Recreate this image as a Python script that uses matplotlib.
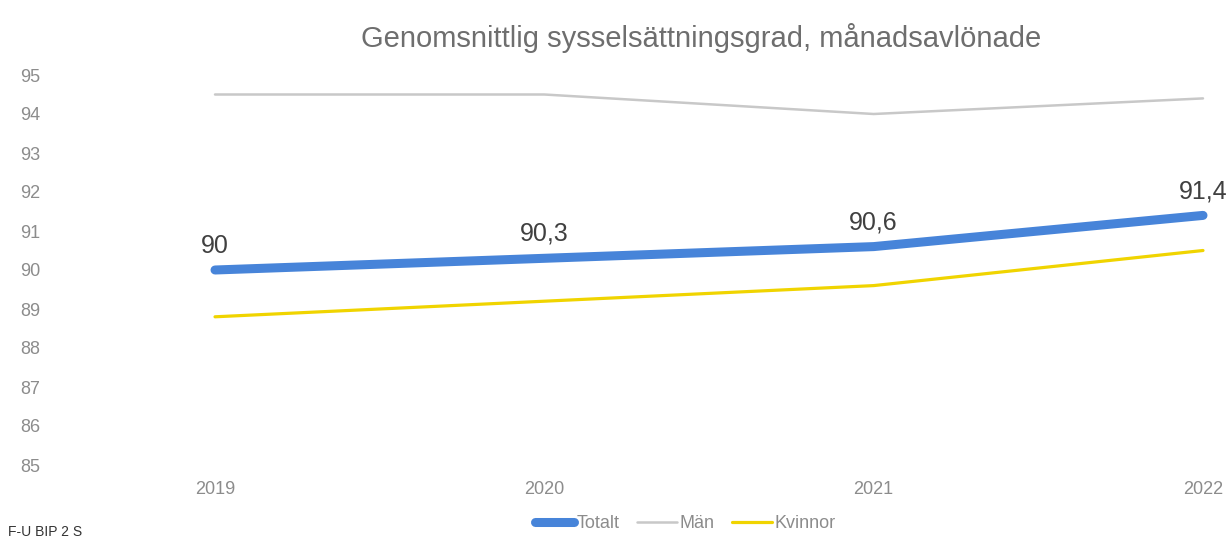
import numpy as np
import matplotlib.pyplot as plt

plt.rcParams['font.family'] = ['Liberation Sans', 'DejaVu Sans']

# data
years = ['2019', '2020', '2021', '2022']
totalt = [90.0, 90.3, 90.6, 91.4]
man = [94.5, 94.5, 94.0, 94.4]
kvinnor = [88.8, 89.2, 89.6, 90.5]
totalt_labels = ['90', '90,3', '90,6', '91,4']
yticks = [85, 86, 87, 88, 89, 90, 91, 92, 93, 94, 95]

W, H = 1232, 541
fig = plt.figure(figsize=(W / 100, H / 100), dpi=100)
ax = fig.add_axes([55 / W, (H - 465) / H, (W - 55) / W, 390 / H])

x = np.arange(len(years))
ax.plot(x, totalt, color='#4784d9', lw=6.5, solid_capstyle='round', label='Totalt', zorder=3)
ax.plot(x, man, color='#c8c8c8', lw=1.8, solid_capstyle='round', label='Män', zorder=2)
ax.plot(x, kvinnor, color='#f0d400', lw=2.3, solid_capstyle='round', label='Kvinnor', zorder=2)

# datalabels för totalt
for xi, yi, lab in zip(x, totalt, totalt_labels):
    ax.annotate(lab, (xi, yi), xytext=(0, 17.5), textcoords='offset points',
                ha='center', va='center', fontsize=18, color='#404040')

ax.set_xlim(-(215 - 55) / 329.3, 3 + (W - 1203) / 329.3)
ax.set_ylim(85, 95)
ax.set_xticks(x)
ax.set_xticklabels(years)
ax.set_yticks(yticks)
ax.tick_params(axis='both', length=0, labelsize=13, colors='#8c8c8c')
ax.tick_params(axis='x', pad=11.5)
ax.tick_params(axis='y', pad=10.5)
for s in ax.spines.values():
    s.set_visible(False)

fig.text(701 / W, 1 - 38 / H, 'Genomsnittlig sysselsättningsgrad, månadsavlönade',
         ha='center', va='center', fontsize=21, color='#6e6e6e')

leg = fig.legend(loc='center', bbox_to_anchor=(685 / W, 1 - 524 / H), ncol=3, frameon=False,
                 fontsize=13, handlelength=2.2, handletextpad=0.15, columnspacing=0.95)
for t in leg.get_texts():
    t.set_color('#8c8c8c')

# avskuren text längst ner
fig.text(8 / W, 2 / H, 'F-U BIP 2 S', ha='left', va='bottom', fontsize=10, color='#333333')

fig.savefig('out.png', dpi=100)
